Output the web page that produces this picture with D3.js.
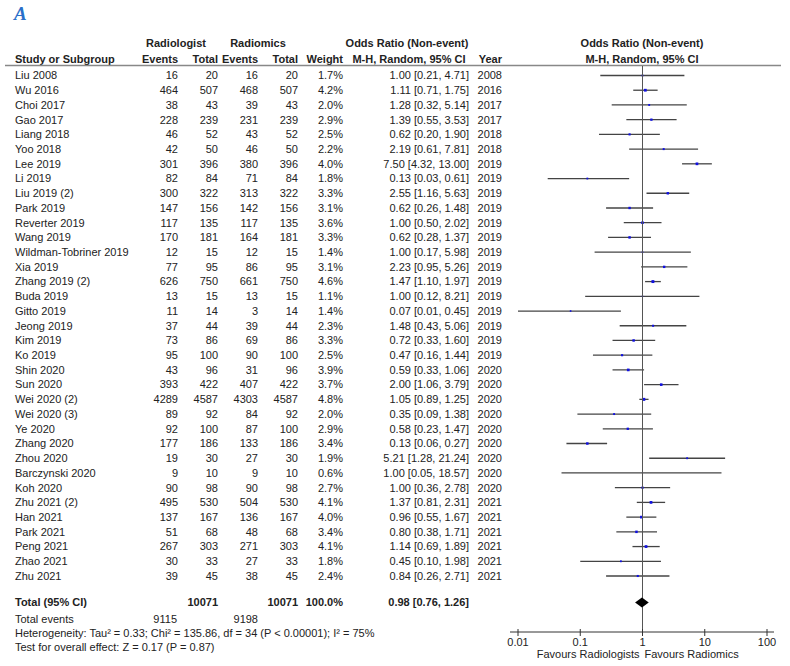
<!DOCTYPE html>
<html>
<head>
<meta charset="utf-8">
<script src="https://cdn.jsdelivr.net/npm/d3@7/dist/d3.min.js"></script>
<style>
  body { margin: 0; background: #fff; }
  text { font-family: "Liberation Sans", Arial, sans-serif; font-size: 11px; fill: #222; }
  .b { font-weight: bold; }
</style>
</head>
<body>
<div id="chart"></div>
<script>
// study rows
var studies = ["Liu 2008", "Wu 2016", "Choi 2017", "Gao 2017", "Liang 2018", "Yoo 2018", "Lee 2019",
  "Li 2019", "Liu 2019 (2)", "Park 2019", "Reverter 2019", "Wang 2019", "Wildman-Tobriner 2019",
  "Xia 2019", "Zhang 2019 (2)", "Buda 2019", "Gitto 2019", "Jeong 2019", "Kim 2019", "Ko 2019",
  "Shin 2020", "Sun 2020", "Wei 2020 (2)", "Wei 2020 (3)", "Ye 2020", "Zhang 2020", "Zhou 2020",
  "Barczynski 2020", "Koh 2020", "Zhu 2021 (2)", "Han 2021", "Park 2021", "Peng 2021", "Zhao 2021", "Zhu 2021"];
var radEvents = [16, 464, 38, 228, 46, 42, 301, 82, 300, 147, 117, 170, 12, 77, 626, 13, 11, 37, 73, 95,
  43, 393, 4289, 89, 92, 177, 19, 9, 90, 495, 137, 51, 267, 30, 39];
var radTotal = [20, 507, 43, 239, 52, 50, 396, 84, 322, 156, 135, 181, 15, 95, 750, 15, 14, 44, 86, 100,
  96, 422, 4587, 92, 100, 186, 30, 10, 98, 530, 167, 68, 303, 33, 45];
var rmEvents = [16, 468, 39, 231, 43, 46, 380, 71, 313, 142, 117, 164, 12, 86, 661, 13, 3, 39, 69, 90,
  31, 407, 4303, 84, 87, 133, 27, 9, 90, 504, 136, 48, 271, 27, 38];
var rmTotal = radTotal.slice();
var weights = [1.7, 4.2, 2.0, 2.9, 2.5, 2.2, 4.0, 1.8, 3.3, 3.1, 3.6, 3.3, 1.4, 3.1, 4.6, 1.1, 1.4, 2.3, 3.3, 2.5,
  3.9, 3.7, 4.8, 2.0, 2.9, 3.4, 1.9, 0.6, 2.7, 4.1, 4.0, 3.4, 4.1, 1.8, 2.4];
var oddsRatio = [1.00, 1.11, 1.28, 1.39, 0.62, 2.19, 7.50, 0.13, 2.55, 0.62, 1.00, 0.62, 1.00, 2.23, 1.47, 1.00,
  0.07, 1.48, 0.72, 0.47, 0.59, 2.00, 1.05, 0.35, 0.58, 0.13, 5.21, 1.00, 1.00, 1.37, 0.96, 0.80, 1.14, 0.45, 0.84];
var ciLow = [0.21, 0.71, 0.32, 0.55, 0.20, 0.61, 4.32, 0.03, 1.16, 0.26, 0.50, 0.28, 0.17, 0.95, 1.10, 0.12,
  0.01, 0.43, 0.33, 0.16, 0.33, 1.06, 0.89, 0.09, 0.23, 0.06, 1.28, 0.05, 0.36, 0.81, 0.55, 0.38, 0.69, 0.10, 0.26];
var ciHigh = [4.71, 1.75, 5.14, 3.53, 1.90, 7.81, 13.00, 0.61, 5.63, 1.48, 2.02, 1.37, 5.98, 5.26, 1.97, 8.21,
  0.45, 5.06, 1.60, 1.44, 1.06, 3.79, 1.25, 1.38, 1.47, 0.27, 21.24, 18.57, 2.78, 2.31, 1.67, 1.71, 1.89, 1.98, 2.71];
var years = [2008, 2016, 2017, 2017, 2018, 2018, 2019, 2019, 2019, 2019, 2019, 2019, 2019, 2019, 2019, 2019,
  2019, 2019, 2019, 2019, 2020, 2020, 2020, 2020, 2020, 2020, 2020, 2020, 2020, 2021, 2021, 2021, 2021, 2021, 2021];

// pooled result
var pooled = [0.98, 0.76, 1.26];
var totalN = [10071, 10071];
var totalEvents = [9115, 9198];
var axisTicks = [0.01, 0.1, 1, 10, 100];

var width = 790, height = 666;

var svg = d3.select("#chart").append("svg")
    .attr("width", width)
    .attr("height", height);

// row positions
var y = d3.scalePoint()
    .domain(d3.range(studies.length))
    .range([75.5, 576]);

// log scale for the plot panel
var x = d3.scaleLog()
    .domain([0.01, 100])
    .range([518, 767]);

var fmt = d3.format(".2f");

// panel letter
svg.append("text")
    .attr("x", 14).attr("y", 20)
    .style("font-family", "'Liberation Serif', serif")
    .style("font-size", "19px")
    .style("font-weight", "bold")
    .style("font-style", "italic")
    .style("fill", "#2a6fc9")
    .text("A");

// ****************** header ***************************
var head1 = 43, head2 = 59;
function hText(tx, ty, s, anchor) {
  svg.append("text").attr("class", "b")
      .attr("x", tx).attr("y", ty).attr("dy", ".35em")
      .attr("text-anchor", anchor || "middle")
      .text(s);
}
hText(176, head1, "Radiologist");
hText(258, head1, "Radiomics");
hText(407, head1, "Odds Ratio (Non-event)");
hText(642, head1, "Odds Ratio (Non-event)");
hText(15, head2, "Study or Subgroup", "start");
hText(178, head2, "Events", "end");
hText(218, head2, "Total", "end");
hText(258, head2, "Events", "end");
hText(298, head2, "Total", "end");
hText(343, head2, "Weight", "end");
hText(409, head2, "M-H, Random, 95% CI");
hText(502, head2, "Year", "end");
hText(642, head2, "M-H, Random, 95% CI");

svg.append("line")
    .attr("x1", 5).attr("x2", 781)
    .attr("y1", 65.5).attr("y2", 65.5)
    .style("stroke", "#888")
    .style("stroke-width", 1.5);

// ****************** table rows ***************************
var cols = [
  {x: 178, v: function(i) { return radEvents[i]; }},
  {x: 218, v: function(i) { return radTotal[i]; }},
  {x: 258, v: function(i) { return rmEvents[i]; }},
  {x: 298, v: function(i) { return rmTotal[i]; }},
  {x: 343, v: function(i) { return weights[i].toFixed(1) + "%"; }},
  {x: 469, v: function(i) { return fmt(oddsRatio[i]) + " [" + fmt(ciLow[i]) + ", " + fmt(ciHigh[i]) + "]"; }},
  {x: 502, v: function(i) { return years[i]; }}
];

var row = svg.selectAll("g.row")
    .data(d3.range(studies.length))
  .enter().append("g")
    .attr("class", "row")
    .attr("transform", function(i) { return "translate(0," + y(i) + ")"; });

row.append("text")
    .attr("x", 15).attr("dy", ".35em")
    .text(function(i) { return studies[i]; });

cols.forEach(function(c) {
  row.append("text")
      .attr("x", c.x).attr("dy", ".35em")
      .attr("text-anchor", "end")
      .text(function(i) { return c.v(i); });
});

// ****************** plot panel ***************************
var axisY = 632;

// line of no effect
svg.append("line")
    .attr("x1", x(1)).attr("x2", x(1))
    .attr("y1", 66).attr("y2", axisY)
    .style("stroke", "#555")
    .style("stroke-width", 1);

row.append("line")
    .attr("x1", function(i) { return x(ciLow[i]); })
    .attr("x2", function(i) { return x(ciHigh[i]); })
    .style("stroke", "#444")
    .style("stroke-width", 1.3);

// square side grows with weight
function side(i) { return Math.sqrt(weights[i]) * 1.35; }
row.append("rect")
    .attr("x", function(i) { return x(oddsRatio[i]) - side(i) / 2; })
    .attr("y", function(i) { return -side(i) / 2; })
    .attr("width", side)
    .attr("height", side)
    .style("fill", "#1010e0");

// ****************** totals ***************************
var totY = 602.5;
svg.append("text").attr("class", "b").attr("x", 15).attr("y", totY).attr("dy", ".35em").text("Total (95% CI)");
svg.append("text").attr("class", "b").attr("x", 218).attr("y", totY).attr("dy", ".35em")
    .attr("text-anchor", "end").text(totalN[0]);
svg.append("text").attr("class", "b").attr("x", 298).attr("y", totY).attr("dy", ".35em")
    .attr("text-anchor", "end").text(totalN[1]);
svg.append("text").attr("class", "b").attr("x", 343).attr("y", totY).attr("dy", ".35em")
    .attr("text-anchor", "end").text("100.0%");
svg.append("text").attr("class", "b").attr("x", 469).attr("y", totY).attr("dy", ".35em")
    .attr("text-anchor", "end")
    .text(fmt(pooled[0]) + " [" + fmt(pooled[1]) + ", " + fmt(pooled[2]) + "]");

svg.append("path")
    .attr("d", "M" + x(pooled[1]) + "," + totY +
               "L" + x(pooled[0]) + "," + (totY - 5) +
               "L" + x(pooled[2]) + "," + totY +
               "L" + x(pooled[0]) + "," + (totY + 5) + "Z")
    .style("fill", "#000");

svg.append("text").attr("x", 15).attr("y", 619.5).attr("dy", ".35em").text("Total events");
svg.append("text").attr("x", 177).attr("y", 619.5).attr("dy", ".35em")
    .attr("text-anchor", "end").text(totalEvents[0]);
svg.append("text").attr("x", 258).attr("y", 619.5).attr("dy", ".35em")
    .attr("text-anchor", "end").text(totalEvents[1]);
svg.append("text").attr("x", 15).attr("y", 633.5).attr("dy", ".35em")
    .text("Heterogeneity: Tau\u00b2 = 0.33; Chi\u00b2 = 135.86, df = 34 (P < 0.00001); I\u00b2 = 75%");
svg.append("text").attr("x", 15).attr("y", 647.5).attr("dy", ".35em")
    .text("Test for overall effect: Z = 0.17 (P = 0.87)");

// ****************** axis ***************************
var gAxis = svg.append("g").attr("transform", "translate(0," + axisY + ")");
gAxis.append("line")
    .attr("x1", 510).attr("x2", 774)
    .style("stroke", "#333");
gAxis.selectAll("line.tick")
    .data(axisTicks)
  .enter().append("line")
    .attr("class", "tick")
    .attr("x1", function(d) { return x(d); })
    .attr("x2", function(d) { return x(d); })
    .attr("y1", -3).attr("y2", 4)
    .style("stroke", "#333");
gAxis.selectAll("text.tick")
    .data(axisTicks)
  .enter().append("text")
    .attr("class", "tick")
    .attr("x", function(d) { return x(d); })
    .attr("y", 10).attr("dy", ".35em")
    .attr("text-anchor", "middle")
    .text(function(d) { return d; });

svg.append("text").attr("x", x(1) - 3).attr("y", 654).attr("dy", ".35em")
    .attr("text-anchor", "end").text("Favours Radiologists");
svg.append("text").attr("x", x(1) + 2).attr("y", 654).attr("dy", ".35em")
    .text("Favours Radiomics");
</script>
</body>
</html>
